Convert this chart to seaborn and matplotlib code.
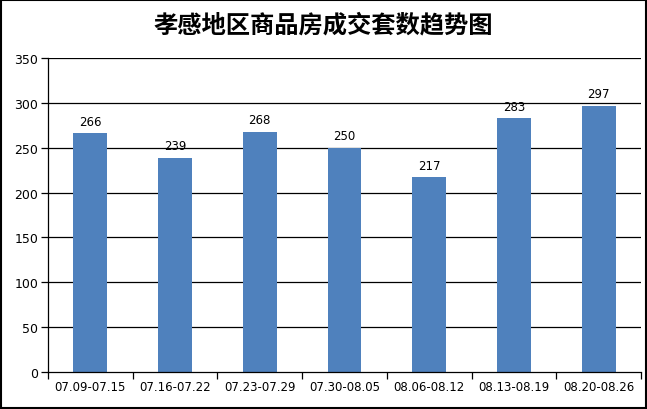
import matplotlib
matplotlib.use("Agg")
import matplotlib.pyplot as plt
import seaborn as sns
import pandas as pd

categories = ["07.09-07.15", "07.16-07.22", "07.23-07.29", "07.30-08.05",
              "08.06-08.12", "08.13-08.19", "08.20-08.26"]
values = [266, 239, 268, 250, 217, 283, 297]
yticks = [0, 50, 100, 150, 200, 250, 300, 350]
title = "孝感地区商品房成交套数趋势图"

sns.set_theme(style="white")
plt.rcParams['font.family'] = ['DejaVu Sans', 'Noto Sans CJK SC']
plt.rcParams['text.color'] = 'black'
plt.rcParams['xtick.color'] = 'black'
plt.rcParams['ytick.color'] = 'black'

df = pd.DataFrame({"period": categories, "count": values})

fig = plt.figure(figsize=(6.47, 4.10), dpi=100)
ax = fig.add_axes([48/647, 1-373/410, (641-48)/647, (373-59)/410])

sns.barplot(data=df, x="period", y="count", color="#4F81BD", width=0.4,
            saturation=1, ax=ax, linewidth=0, edgecolor="none")
for p in ax.patches:
    p.set_zorder(3)

ax.set_ylim(0, 350)
ax.set_xlim(-0.5, len(categories) - 0.5)
ax.set_yticks(yticks)
ax.set_yticklabels([str(v) for v in yticks], fontsize=9)
ax.set_xlabel("")
ax.set_ylabel("")

# gridlines
for v in yticks[1:]:
    ax.axhline(v, color="black", lw=0.9, zorder=1)

# x ticks at category boundaries
ax.set_xticks([i + 0.5 for i in range(-1, len(categories))], minor=False)
ax.set_xticklabels([])
ax.set_xticks(range(len(categories)), minor=True)
ax.set_xticklabels(categories, minor=True, fontsize=8.5)
ax.tick_params(axis="x", which="major", direction="out", length=5, width=0.9,
               color="black", bottom=True)
ax.tick_params(axis="x", which="minor", length=0, pad=6)
ax.tick_params(axis="y", direction="out", length=5, width=0.9, color="black",
               left=True, pad=2)

for s in ["top", "right"]:
    ax.spines[s].set_visible(False)
for s in ["left", "bottom"]:
    ax.spines[s].set_color("black")
    ax.spines[s].set_linewidth(0.9)
    ax.spines[s].set_zorder(4)

for i, v in enumerate(values):
    ax.text(i, v + 6, str(v), ha="center", va="bottom", fontsize=8.5,
            color="black")

fig.text(0.5, 1 - 25/410, title, ha="center", va="center", fontsize=17.5,
         fontweight="bold", color="black", family=["Noto Sans CJK SC"])

# figure border
fig.patches.append(plt.Rectangle((0.001, 0.002), 0.997, 0.996,
                                 transform=fig.transFigure, fill=False,
                                 edgecolor="black", lw=1.5))

fig.savefig("out.png", dpi=100)
